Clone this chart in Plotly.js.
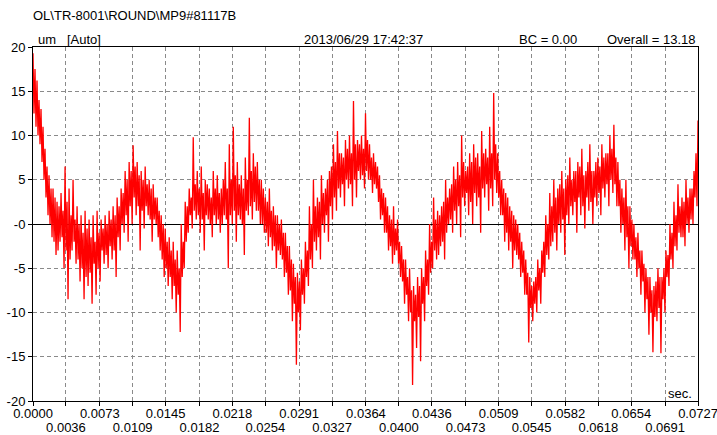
<!DOCTYPE html>
<html>
<head>
<meta charset="utf-8">
<script src="https://cdn.plot.ly/plotly-3.0.1.min.js"></script>
<style>
html,body{margin:0;padding:0;background:#fff;}
#chart{width:717px;height:435px;}
</style>
</head>
<body>
<div id="chart"></div>
<script>
// Waveform samples (um), evenly spaced over 0 .. 0.0727 s
const amplitude = [
19.3, 12.5, 17.5, 11,  16.2, 10, 14, 9,  13, 7, 11, 5,  8.5, 3, 6.5, 1,
5.5, 0, 4, -1.5,  4, -2, 3, -3.5,  2.5, -3, 2, -2,  3.5, -1.5, 1.5, -5,
6.5, -3, 2.5, -8.5,  4, -4, 1, -3,  5, -2, 0.5, -4.5,  2, -4, 0, -6.5,
1, -5, -1, -8.5,  1.5, -6, -0.5, -7,  0.5, -5.5, -1.5, -9,  1, -4.5, -2, -8,
1.5, -5, -1, -6.5,  0.5, -3, -0.5, -4.5,  1, -3.5, 0, -5,  1.5, -2.5, 0.5, -4,
2, -3, 1, -6,  3, -1.5, 2, -3,  4, 0, 3.5, -1,  6, 1, 5, -2,
7, 2, 6, 0,  8.9, 3, 6.5, 1,  7, 2, 5.5, -3,  6, 1.5, 5, -0.5,
6.5, 2, 4.5, 1,  5, 0.5, 4, -2,  4.5, 0.5, 3, 0,  3, -1.5, 1.5, -3,
1, -4, 0, -6,  -0.5, -5, -2, -7,  -1.5, -6, -3, -8.5,  -2, -7, -4, -10,
-3, -8, -5, -12.2,  0, -6, -2, -5,  2.5, -2, 2, -1,  4, 1, 3, -0.5,
9.8, 1.5, 4.5, 0.5,  6, 1, 4, -1,  6.5, 0.5, 3.5, -3,  5, 1, 4.5, 0.5,
4, 0, 3, -1.5,  6, 1, 4, 0,  5.5, 0.5, 3.5, -1,  4, 0, 5, 1,
7, 0.5, 4, -5,  9, 1, 5, 0,  11, 1.5, 5.5, -2,  7, 1, 4.5, 0.5,
5.5, 0, 4, -3.5,  7.5, 1.5, 5, 1,  12, 2, 6, 0.5,  8, 2.5, 6.5, 1.5,
7, 1.5, 5, 0,  5, 0, 4, -1,  3, -1, 2.5, -2.5,  4, -1.5, 1.5, -3,
2, -2.5, 1, -5,  1, -3, 0, -3.5,  0.5, -4, -1, -6,  -1, -5.5, -2.5, -8,
-2.5, -7.5, -4, -11,  -4.5, -9, -6, -15.9,  -5.5, -10, -6.5, -12,  -4, -8, -5, -9,
-2, -6, -3, -7,  2, -4, 0, -5,  5, -2, 2, -3,  3, -1.5, 2.5, -4,
5.5, 0, 3.5, -1,  4, 1, 5, -2,  6, 2, 6.5, 0.5,  9, 3, 7, 1.5,
10.5, 4, 8, 3,  8, 4.5, 7.5, 2,  9.5, 5, 8.5, 4,  10, 4.5, 8, 2,
13.9, 5, 9, 3,  9.5, 6, 9, 5,  10, 5.5, 8.5, 4,  12.5, 6, 9.5, 5,
9, 5, 7.5, 3.5,  8, 4.5, 7, 4,  6.5, 2.5, 5.5, 0.5,  4, 1, 3.5, -1,
3, -1, 2, -3,  1, -2.5, 0.5, -4.5,  2, -3.5, -0.5, -3,  0.5, -4.5, -2, -6,
-2.5, -6.5, -4, -9,  -4, -8, -6, -11,  -5, -10, -7.5, -18.2,  -7, -11, -8, -14,
-6, -10.5, -7, -15.5,  -5, -9, -6, -11,  -3, -7, -4, -8,  0, -5.5, -2, -5,
3, -3, 0.5, -4,  1.5, -3.5, 1, -2.5,  2, -2, 2.5, -4,  5, -1, 3, 0,
4, 0.5, 4.5, -1,  6.5, 1.5, 5, 0,  7, 2, 5.5, -1.5,  10, 3, 7, 2,
6, 3.5, 6.5, 1,  8, 2.5, 7, 0,  9, 3.5, 7.5, 2,  8, 3, 6.5, -1,
10.5, 4, 8, 3,  8.5, 4.5, 7.5, 1.5,  11, 4, 8, 2,  14.8, 5, 9, 3.5,
8, 3, 6, 1,  5, 1, 4, -2,  3.5, -1, 3, -3,  2, -2, 1.5, -5,
1, -3, 0.5, -3.5,  0, -4, -1, -6,  -2, -5.5, -3, -8,  -4, -8, -5.5, -13.4,
-6, -9.5, -7, -11,  -6.5, -9, -6, -10,  -4, -7.5, -5, -9,  -3, -5.5, -2, -6,
1, -3.5, 0, -4,  3.5, -2.5, 2, -2,  5, -1, 3, -3,  4, 0, 4.5, -1,
6, 0.5, 4, -3.5,  5, 1, 5.5, 0,  7.5, 2, 5, 1,  6, 2.5, 6, -1,
7, 3, 6.5, 1,  8.5, 2, 5.5, -0.5,  6, 3, 7, 1.5,  9, 2.5, 6, 0,
6, 3, 7, 2,  7.5, 3.5, 6.5, 1,  9, 4, 7.5, 3,  8, 4.5, 8, 2,
10, 5, 8.5, 3.5,  11.2, 4.5, 7.5, 2,  7, 2, 5, -1,  4, 0, 3, -3,
5, -1.5, 2, -5,  2, -2.5, 0.5, -4,  0, -4, -1.5, -6,  -1, -5, -3, -8,
-3, -6.5, -4.5, -10,  -5, -8.5, -6, -12.5,  -6, -10, -7.5, -14.5,  -7, -10.5, -6.5, -11,
-5, -9.5, -6, -14.6,  -6, -8.5, -5, -10,  -3, -6, -3.5, -7,  0, -4, -1, -5,
2.5, -2.5, 1, -3,  4.5, -1, 2, -1.5,  3, -1.5, 2.5, -2.5,  5, 0, 3, -1,
4, 0.5, 4, 0,  6, 3, 8, 2,
11.7
];
const timeSpan = 0.0727; // seconds
const xTickLabels = ["0.0000","0.0036","0.0073","0.0109","0.0145","0.0182","0.0218",
  "0.0254","0.0291","0.0327","0.0364","0.0400","0.0436","0.0473","0.0509","0.0545",
  "0.0582","0.0618","0.0654","0.0691","0.0727"];
const yTickValues = [-20, -15, -10, -5, 0, 5, 10, 15, 20];
const yTickLabels = ["-20", "-15", "-10", "-5", "-0", "5", "10", "15", "20"];
const headerTitle = "OL\\TR-8001\\ROUND\\MP9#81117B";
const unitText = "um&nbsp;&nbsp;&nbsp;[Auto]";
const dateText = "2013/06/29 17:42:37";
const bcText = "BC = 0.00";
const overallText = "Overall = 13.18";
const unitX = "sec.";

const FONT = "Liberation Sans, Arial, sans-serif";
const xTickVals = xTickLabels.map(Number);
const oddVals = xTickVals.filter((v, i) => i % 2 === 1);
const oddText = xTickLabels.filter((t, i) => i % 2 === 1);

const trace = {
  type: "scatter",
  mode: "lines",
  y: amplitude,
  x0: 0,
  dx: timeSpan / (amplitude.length - 1),
  line: { color: "#ff0000", width: 1.3 },
  hoverinfo: "skip"
};
const oddAxisHolder = { type: "scatter", mode: "lines", x: [], y: [], xaxis: "x2", yaxis: "y", hoverinfo: "skip" };

const W = 717, H = 435, L = 33, R = 19, T = 47, B = 34;
const pw = W - L - R, ph = H - T - B;
const px = v => (v - L) / pw;
const py = v => (H - B - v) / ph;

const baseAxis = {
  range: [0, timeSpan],
  tickmode: "array",
  tickangle: 0,
  zeroline: false,
  ticklabeloverflow: "allow",
  tickfont: { family: FONT, size: 13, color: "#000000" },
  fixedrange: true
};

const layout = {
  width: W, height: H,
  margin: { l: L, r: R, t: T, b: B, pad: 0 },
  paper_bgcolor: "#ffffff",
  plot_bgcolor: "#ffffff",
  showlegend: false,
  font: { family: FONT, size: 13, color: "#000000" },
  title: {
    text: headerTitle,
    x: 33 / W, xanchor: "left", xref: "container",
    y: 1 - 15 / H, yanchor: "middle", yref: "container",
    font: { family: FONT, size: 13, color: "#000000" }
  },
  xaxis: Object.assign({}, baseAxis, {
    tickvals: xTickVals,
    ticktext: xTickLabels.map((t, i) => (i % 2 === 0 ? t : "")),
    ticks: "outside", ticklen: 4, tickcolor: "#000000", tickwidth: 1,
    ticklabelstandoff: -4,
    showline: true, linecolor: "#000000", linewidth: 1, mirror: true,
    showgrid: true, gridcolor: "#8a8a8a", gridwidth: 1, griddash: "4px,3px"
  }),
  xaxis2: Object.assign({}, baseAxis, {
    overlaying: "x", anchor: "y", side: "bottom",
    tickvals: oddVals,
    ticktext: oddText,
    ticks: "outside", ticklen: 4, tickcolor: "#000000", tickwidth: 1,
    ticklabelstandoff: 10,
    showline: false, showgrid: false
  }),
  yaxis: {
    range: [-20, 20],
    tickmode: "array",
    tickvals: yTickValues,
    ticktext: yTickLabels,
    ticks: "outside", ticklen: 4, tickcolor: "#000000", tickwidth: 1,
    showline: true, linecolor: "#000000", linewidth: 1, mirror: true,
    showgrid: true, gridcolor: "#8a8a8a", gridwidth: 1, griddash: "4px,3px",
    zeroline: true, zerolinecolor: "#000000", zerolinewidth: 1,
    tickfont: { family: FONT, size: 13, color: "#000000" },
    fixedrange: true
  },
  annotations: [
    { text: unitText, x: px(36), y: py(40), xanchor: "left", yanchor: "middle" },
    { text: dateText, x: px(302), y: py(40), xanchor: "left", yanchor: "middle" },
    { text: bcText, x: px(517), y: py(40), xanchor: "left", yanchor: "middle" },
    { text: overallText, x: px(605), y: py(40), xanchor: "left", yanchor: "middle" },
    { text: unitX, x: px(694), y: py(393), xanchor: "right", yanchor: "middle" }
  ].map(a => Object.assign({
    xref: "paper", yref: "paper", showarrow: false,
    font: { family: FONT, size: 13, color: "#000000" }
  }, a))
};

Plotly.newPlot("chart", [trace, oddAxisHolder], layout, { displayModeBar: false, staticPlot: true });
</script>
</body>
</html>
